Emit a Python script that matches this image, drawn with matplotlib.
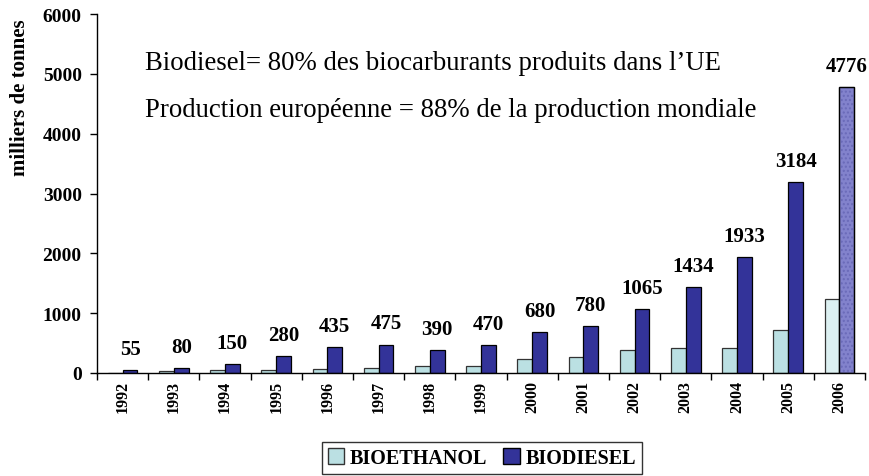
import matplotlib; matplotlib.use("Agg")
import matplotlib.pyplot as plt
from matplotlib.patches import Patch
import numpy as np

plt.rcParams["font.family"] = ["Liberation Serif", "DejaVu Serif"]

years = ["1992","1993","1994","1995","1996","1997","1998","1999",
         "2000","2001","2002","2003","2004","2005","2006"]
bioethanol = [0, 35, 55, 55, 73, 90, 112, 112, 230, 268, 385, 424, 424, 720, 1240]
biodiesel = [55, 80, 150, 280, 435, 475, 390, 470, 680, 780, 1065, 1434, 1933, 3184, 4776]
notes = ["Biodiesel= 80% des biocarburants produits dans l\u2019UE",
         "Production europ\u00e9enne = 88% de la production mondiale"]

ETH = "#bbe0e3"; DIE = "#333399"
ETH_LAST = "#dcf0f1"; DIE_LAST = "#8282cc"

fig = plt.figure(figsize=(8.7, 4.77), dpi=100)
ax = fig.add_axes([97/870, 103/477, 768/870, 359/477])

x = np.arange(len(years))
w = 0.29
n = len(years)
ec = ["#333333"] * n
fe = [ETH] * (n - 1) + [ETH_LAST]
fd = [DIE] * (n - 1) + [DIE_LAST]
ax.bar(x - w/2, bioethanol, w, color=fe, edgecolor=ec, linewidth=0.9, zorder=2)
ax.bar(x + w/2, biodiesel, w, color=fd, edgecolor="black", linewidth=0.9, zorder=2)
# dotted texture on the last (2006) biodiesel bar
ax.bar(x[-1:] + w/2, biodiesel[-1:], w, color="none", edgecolor="#6a6ab8",
       hatch="....", linewidth=0, zorder=3)
ax.bar(x[-1:] + w/2, biodiesel[-1:], w, color="none", edgecolor="black",
       linewidth=0.9, zorder=4)

for xi, v in zip(x, biodiesel):
    ax.annotate(str(v), (xi + w/2, v), xytext=(0, 8), textcoords="offset points",
                ha="center", va="bottom", fontsize=15, fontweight="bold")

ax.text(0.0625, 0.864, notes[0], transform=ax.transAxes, fontsize=19.3, va="center")
ax.text(0.0625, 0.735, notes[1], transform=ax.transAxes, fontsize=19.3, va="center")

ax.set_xlim(-0.5, n - 0.5)
ax.set_ylim(0, 6000)
ax.set_yticks(range(0, 6001, 1000))
ax.set_yticklabels([str(v) for v in range(0, 6001, 1000)], fontsize=14, fontweight="bold")
ax.set_xticks(np.arange(n + 1) - 0.5)
ax.set_xticklabels([])
ax.set_xticks(x, minor=True)
ax.set_xticklabels(years, minor=True, rotation=90, fontsize=11.5, fontweight="bold")
ax.tick_params(axis="x", which="minor", length=0, pad=5)
ax.tick_params(axis="x", which="major", length=5, direction="out", width=1)
ax.tick_params(axis="y", length=5, direction="out", width=1, pad=6)
for s in ("top", "right"):
    ax.spines[s].set_visible(False)
for s in ("left", "bottom"):
    ax.spines[s].set_linewidth(1)

fig.text(20/870, 1 - 98/477, "milliers de tonnes", rotation=90, ha="center", va="center",
         fontsize=15, fontweight="bold")

handles = [Patch(facecolor=ETH, edgecolor="#333333", label="BIOETHANOL"),
           Patch(facecolor=DIE, edgecolor="black", label="BIODIESEL")]
fig.legend(handles=handles, loc="center", bbox_to_anchor=(482/870, 1 - 459/477), ncol=2,
           frameon=True, fancybox=False, edgecolor="black", prop={"weight": "bold", "size": 14.5},
           handlelength=0.8, handleheight=0.8, handletextpad=0.3, columnspacing=0.8,
           borderpad=0.3)

fig.savefig("out.png", dpi=100)
